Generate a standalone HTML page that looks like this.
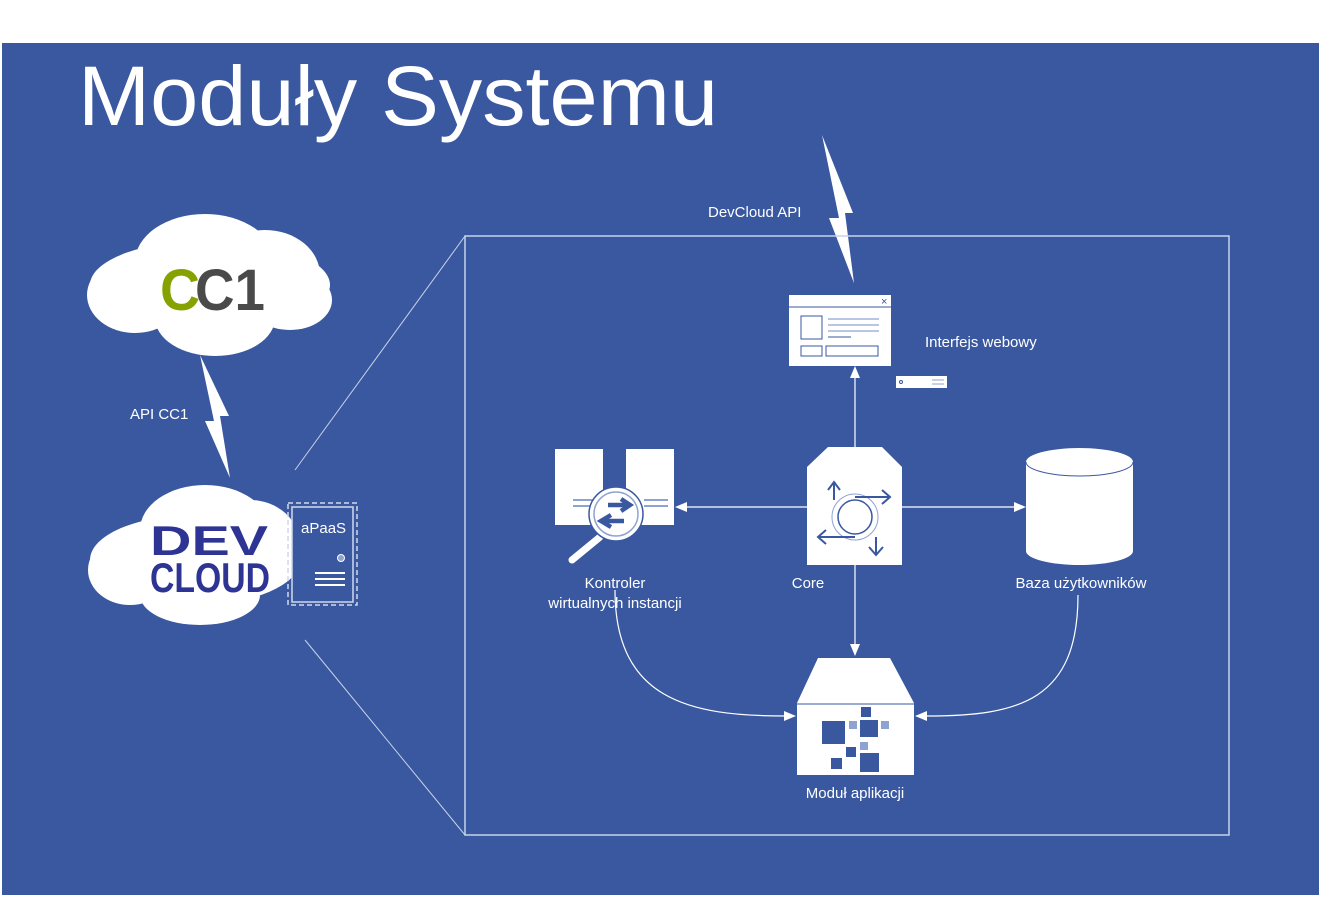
<!DOCTYPE html>
<html><head><meta charset="utf-8"><style>html,body{margin:0;padding:0;background:#fff}svg{display:block}text{font-family:"Liberation Sans",sans-serif;fill:#fff}</style></head>
<body>
<svg width="1321" height="897" viewBox="0 0 1321 897" xmlns="http://www.w3.org/2000/svg">
<rect x="0" y="0" width="1321" height="897" fill="#fff"/>
<rect x="2" y="43" width="1317" height="852" fill="#3A58A0"/>
<text x="78" y="125" font-size="84" textLength="640" lengthAdjust="spacingAndGlyphs" style="font-weight:300">Moduły Systemu</text>

<!-- CC1 cloud -->
<g fill="#fff">
<ellipse cx="210" cy="285" rx="120" ry="45"/>
<ellipse cx="135" cy="295" rx="48" ry="38"/>
<ellipse cx="205" cy="262" rx="70" ry="48"/>
<ellipse cx="265" cy="275" rx="55" ry="45"/>
<ellipse cx="215" cy="318" rx="60" ry="38"/>
<ellipse cx="290" cy="300" rx="42" ry="30"/>
</g>
<text x="160" y="310" font-size="58" font-weight="bold" style="fill:#86A200" textLength="40" lengthAdjust="spacingAndGlyphs">C</text>
<text x="195" y="310" font-size="58" font-weight="bold" style="fill:#4a4a4a" textLength="70" lengthAdjust="spacingAndGlyphs">C1</text>

<!-- DevCloud cloud -->
<g fill="#fff">
<ellipse cx="195" cy="560" rx="105" ry="45"/>
<ellipse cx="130" cy="570" rx="42" ry="35"/>
<ellipse cx="205" cy="530" rx="65" ry="45"/>
<ellipse cx="250" cy="545" rx="50" ry="45"/>
<ellipse cx="200" cy="595" rx="60" ry="30"/>
</g>
<text x="150" y="555" font-size="42" font-weight="bold" style="fill:#2E3494" textLength="118" lengthAdjust="spacingAndGlyphs">DEV</text>
<text x="150" y="592" font-size="42" font-weight="bold" style="fill:#2E3494" textLength="120" lengthAdjust="spacingAndGlyphs">CLOUD</text>

<!-- aPaaS -->
<rect x="288" y="503" width="69" height="102" fill="none" stroke="#d0d8ee" stroke-width="1.5" stroke-dasharray="5,3"/>
<rect x="292" y="507" width="61" height="95" fill="#3A58A0" stroke="#d0d8ee" stroke-width="1.5"/>
<text x="301" y="533" font-size="15">aPaaS</text>
<circle cx="341" cy="558" r="3.5" fill="#8fa3d2" stroke="#fff"/>
<g stroke="#fff" stroke-width="2"><line x1="315" y1="573" x2="345" y2="573"/><line x1="315" y1="579" x2="345" y2="579"/><line x1="315" y1="585" x2="345" y2="585"/></g>

<!-- bolts -->
<polygon points="200,355 229,416 220,416 230,478 205,421 214,421" fill="#fff"/>
<text x="130" y="419" font-size="15">API CC1</text>
<polygon points="822,135 853,213 845,213 854,283 829,218 839,218" fill="#fff"/>
<text x="708" y="217" font-size="15">DevCloud API</text>

<!-- frame and zoom lines -->
<rect x="465" y="236" width="764" height="599" fill="none" stroke="#c8d2ea" stroke-width="1.5"/>
<line x1="295" y1="470" x2="465" y2="236" stroke="#c8d2ea" stroke-width="1"/>
<line x1="305" y1="640" x2="465" y2="835" stroke="#c8d2ea" stroke-width="1"/>

<!-- browser -->
<rect x="789" y="295" width="102" height="71" fill="#fff"/>
<line x1="789" y1="307" x2="891" y2="307" stroke="#3A58A0" stroke-width="1"/>
<text x="881" y="305" font-size="11" style="fill:#3A58A0">×</text>
<rect x="801" y="316" width="21" height="23" fill="none" stroke="#3A58A0"/>
<g stroke="#8fa3d2" stroke-width="1.2"><line x1="828" y1="319" x2="879" y2="319"/><line x1="828" y1="325" x2="879" y2="325"/><line x1="828" y1="331" x2="879" y2="331"/></g>
<line x1="828" y1="337" x2="851" y2="337" stroke="#3A58A0"/>
<rect x="801" y="346" width="21" height="10" fill="none" stroke="#3A58A0"/>
<rect x="826" y="346" width="52" height="10" fill="none" stroke="#3A58A0"/>
<text x="925" y="347" font-size="15">Interfejs webowy</text>
<rect x="896" y="376" width="51" height="12" fill="#fff"/>
<circle cx="901" cy="382" r="1.5" fill="none" stroke="#3A58A0"/>
<g stroke="#8fa3d2"><line x1="932" y1="380" x2="944" y2="380"/><line x1="932" y1="384" x2="944" y2="384"/></g>

<!-- core -->
<polygon points="828,447 882,447 902,467 902,565 807,565 807,467" fill="#fff"/>
<circle cx="855" cy="517" r="17" fill="none" stroke="#3A58A0" stroke-width="1.5"/>
<circle cx="855" cy="517" r="23" fill="none" stroke="#8fa3d2" stroke-width="1"/>
<g stroke="#3A58A0" stroke-width="2" fill="none">
<path d="M834,500 V483 M828,490 L834,482 L840,490"/>
<path d="M855,497 H889 M882,490 L890,497 L882,504"/>
<path d="M876,537 V555 M869,547 L876,555 L883,547"/>
<path d="M855,537 H819 M826,530 L818,537 L826,544"/>
</g>

<!-- servers -->
<rect x="555" y="449" width="48" height="76" fill="#fff"/>
<rect x="626" y="449" width="48" height="76" fill="#fff"/>
<g stroke="#8fa3d2" stroke-width="2"><line x1="573" y1="500" x2="600" y2="500"/><line x1="573" y1="506" x2="600" y2="506"/><line x1="644" y1="500" x2="668" y2="500"/><line x1="644" y1="506" x2="668" y2="506"/></g>
<line x1="600" y1="537" x2="572" y2="560" stroke="#fff" stroke-width="7" stroke-linecap="round"/>
<circle cx="616" cy="514" r="27" fill="#fff" stroke="#3A58A0" stroke-width="1.5"/>
<circle cx="616" cy="514" r="22" fill="#fff" stroke="#8fa3d2" stroke-width="1.5"/>
<path d="M608,505 H626 M621,499 L630,505 L621,511" stroke="#3A58A0" stroke-width="4.5" fill="none"/>
<path d="M624,521 H605 M611,515 L601,521 L611,527" stroke="#3A58A0" stroke-width="4.5" fill="none"/>
<text x="615" y="588" font-size="15" text-anchor="middle">Kontroler</text>
<text x="615" y="608" font-size="15" text-anchor="middle">wirtualnych instancji</text>

<!-- database -->
<path d="M1026,462 A53.5,14 0 0 1 1133,462 V551 A53.5,14 0 0 1 1026,551 Z" fill="#fff"/>
<path d="M1026,462 A53.5,14 0 0 0 1133,462" fill="none" stroke="#3A58A0" stroke-width="1"/>
<text x="1081" y="588" font-size="15" text-anchor="middle">Baza użytkowników</text>
<text x="808" y="588" font-size="15" text-anchor="middle">Core</text>

<!-- module -->
<polygon points="818,658 890,658 914,703 914,775 797,775 797,703" fill="#fff"/>
<line x1="797" y1="704" x2="914" y2="704" stroke="#3A58A0"/>
<g fill="#3A58A0"><rect x="822" y="721" width="23" height="23"/><rect x="860" y="720" width="18" height="17"/><rect x="861" y="707" width="10" height="10"/><rect x="846" y="747" width="10" height="10"/><rect x="831" y="758" width="11" height="11"/><rect x="860" y="753" width="19" height="19"/></g>
<g fill="#8fa3d2"><rect x="849" y="721" width="8" height="8"/><rect x="881" y="721" width="8" height="8"/><rect x="860" y="742" width="8" height="8"/></g>
<text x="855" y="798" font-size="15" text-anchor="middle">Moduł aplikacji</text>

<!-- connectors -->
<g stroke="#fff" stroke-width="1.2" fill="none">
<line x1="855" y1="447" x2="855" y2="378"/>
<line x1="807" y1="507" x2="686" y2="507"/>
<line x1="902" y1="507" x2="1015" y2="507"/>
<line x1="855" y1="565" x2="855" y2="645"/>
<path d="M615,590 C615,700 690,716 785,716"/>
<path d="M1078,595 C1078,700 1020,716 927,716"/>
</g>
<g fill="#fff">
<polygon points="855,366 850,378 860,378"/>
<polygon points="675,507 687,502 687,512"/>
<polygon points="1026,507 1014,502 1014,512"/>
<polygon points="855,656 850,644 860,644"/>
<polygon points="796,716 784,711 784,721"/>
<polygon points="915,716 927,711 927,721"/>
</g>
</svg>
</body></html>
